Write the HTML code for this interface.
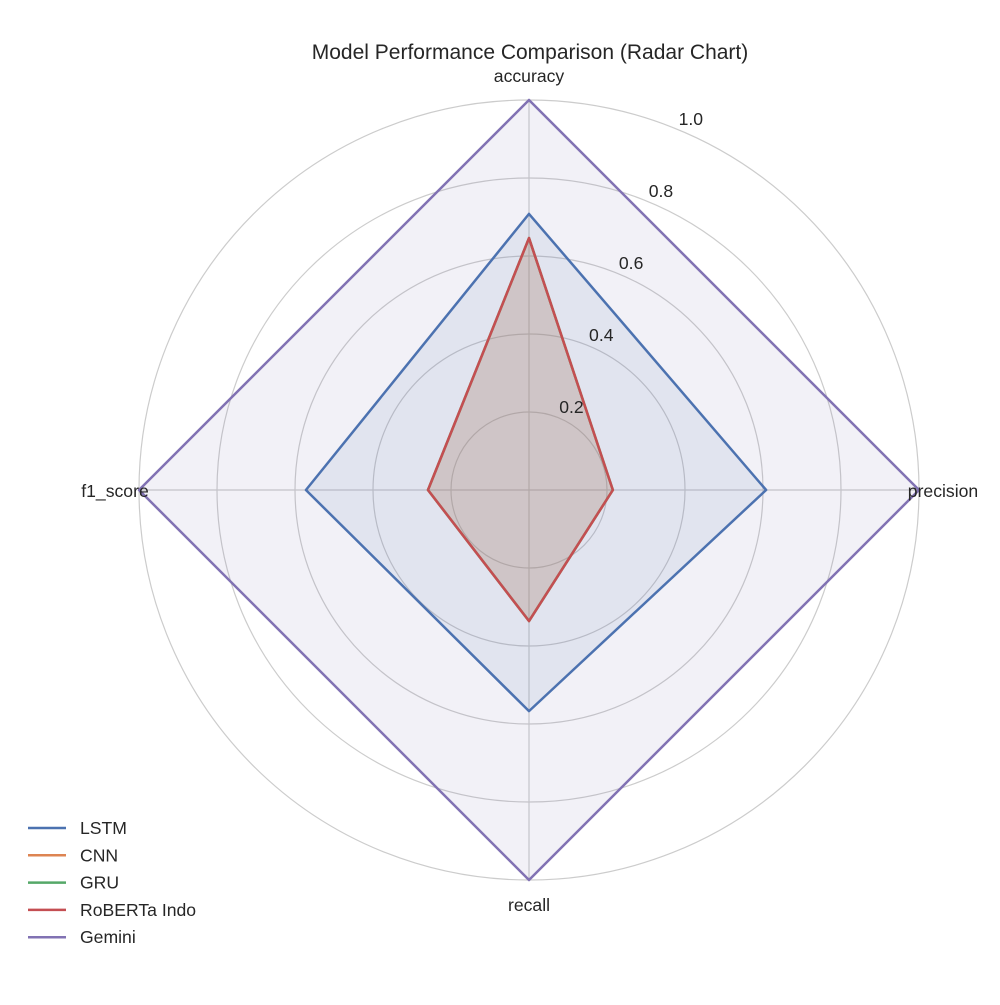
<!DOCTYPE html>
<html><head><meta charset="utf-8"><style>
body{margin:0;background:#fff;}
text{font-family:"Liberation Sans","DejaVu Sans",sans-serif;fill:#262626;}
</style></head><body>
<svg id="chart" width="1000" height="1000" xmlns="http://www.w3.org/2000/svg">
<text x="530" y="59" font-size="21" text-anchor="middle">Model Performance Comparison (Radar Chart)</text>
<g id="grid"></g><g id="series"></g><g id="labels"></g><g id="legend"></g>
</svg>
<script>
const categories=["accuracy","precision","recall","f1_score"];
const models=["LSTM","CNN","GRU","RoBERTa Indo","Gemini"];
const lstmValues=[0.708,0.608,0.567,0.572];
const cnnValues=[0.646,0.215,0.336,0.259];
const gruValues=[0.646,0.215,0.336,0.259];
const robertaValues=[0.646,0.215,0.336,0.259];
const geminiValues=[1.0,1.0,1.0,1.0];
const tickValues=[0.2,0.4,0.6,0.8,1.0];
const tickLabels=["0.2","0.4","0.6","0.8","1.0"];
const colors=["#4c72b0","#dd8452","#55a868","#c44e52","#8172b3"];
const seriesData=[lstmValues,cnnValues,gruValues,robertaValues,geminiValues];
const NS="http://www.w3.org/2000/svg";
const cx=529,cy=490,R=390;
function rScale(v){return v*R;}
function angle(i){return i*2*Math.PI/categories.length;}
function pt(i,v){const a=angle(i);return [cx+rScale(v)*Math.sin(a),cy-rScale(v)*Math.cos(a)];}
function mk(tag,attrs,parent){const e=document.createElementNS(NS,tag);for(const k in attrs)e.setAttribute(k,attrs[k]);parent.appendChild(e);return e;}
const grid=document.getElementById('grid');
tickValues.forEach((t,i)=>{
  const c=mk('circle',{cx:cx,cy:cy,r:rScale(t),fill:'none',stroke:'#cccccc','stroke-width':1.2},grid);
  
  
});
categories.forEach((c,i)=>{
  const p=pt(i,1);
  const l=mk('line',{x1:cx,y1:cy,x2:p[0],y2:p[1],stroke:'#cccccc','stroke-width':1.2},grid);
  
  
});
const labels=document.getElementById('labels');
tickValues.forEach((t,i)=>{
  const r=rScale(t)+14,a=22.5*Math.PI/180;
  const tx=mk('text',{x:cx+r*Math.sin(a)-5,y:cy-r*Math.cos(a)+8,'font-size':17.6},labels);
  tx.textContent=tickLabels[i];
  
  
});
const catPos=[[529,82,'middle'],[943,497,'middle'],[529,911,'middle'],[115,497,'middle']];
categories.forEach((c,i)=>{
  const tx=mk('text',{x:catPos[i][0],y:catPos[i][1],'font-size':17.6,'text-anchor':catPos[i][2]},labels);
  tx.textContent=c;
  
  
});
const sg=document.getElementById('series');
seriesData.forEach((vals,s)=>{
  const pts=vals.map((v,i)=>pt(i,v).join(',')).join(' ');
  const f=mk('polygon',{points:pts,fill:colors[s],'fill-opacity':0.1,stroke:'none'},sg);
  
  
});
seriesData.forEach((vals,s)=>{
  const pts=vals.map((v,i)=>pt(i,v).join(',')).join(' ');
  const l=mk('polygon',{points:pts,fill:'none',stroke:colors[s],'stroke-width':2.5,'stroke-linejoin':'round'},sg);
  
  
});
const lg=document.getElementById('legend');
models.forEach((m,i)=>{
  const y=828+i*27.3;
  const g=mk('g',{},lg);
  
  
  mk('line',{x1:28,y1:y,x2:66,y2:y,stroke:colors[i],'stroke-width':2.5},g);
  const t=mk('text',{x:80,y:y+6,'font-size':17.6},g);
  t.textContent=m;
});
</script>
</body></html>
